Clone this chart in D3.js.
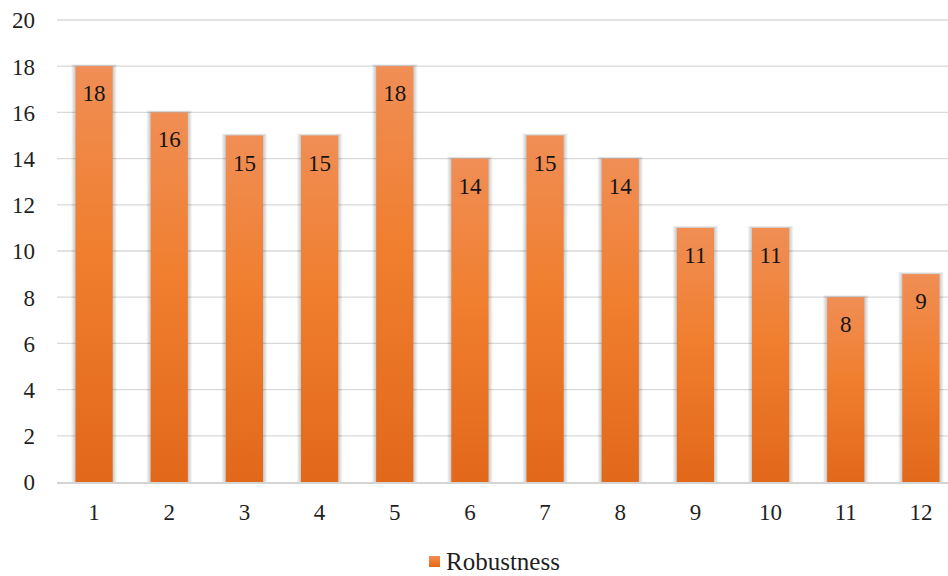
<!DOCTYPE html>
<html><head><meta charset="utf-8">
<script src="https://cdn.jsdelivr.net/npm/d3@7"></script>
</head><body><svg id="c" width="948" height="576"></svg>
<script>
const categories = ["1","2","3","4","5","6","7","8","9","10","11","12"];
const values = [18,16,15,15,18,14,15,14,11,11,8,9];
const yTicks = [0,2,4,6,8,10,12,14,16,18,20];
const seriesName = "Robustness";

d3.select("body").style("margin","0px");
d3.select("#c").style("display","block");
const FONT = "'Liberation Serif'";
const svg = d3.select("#c");
const x = d3.scaleBand().domain(categories).range([56.5, 958.5]).paddingInner(0.505).paddingOuter(0.2525);
const y = d3.scaleLinear().domain([0,20]).range([482, 20]);

const defs = svg.append("defs");
const g = defs.append("linearGradient").attr("id","bg").attr("x1",0).attr("y1",0).attr("x2",0).attr("y2",1);
g.append("stop").attr("offset","0%").attr("stop-color","#F08E55");
g.append("stop").attr("offset","45%").attr("stop-color","#F07E2E");
g.append("stop").attr("offset","100%").attr("stop-color","#E2681A");

// gridlines
svg.append("g").selectAll("line").data(yTicks.filter(d=>d>0)).join("line")
  .attr("x1",57).attr("x2",948).attr("y1",d=>y(d)).attr("y2",d=>y(d))
  .attr("stroke","#d9d9d9").attr("stroke-width",1.3);

// y labels
const yAxis = svg.append("g").attr("transform","translate(35,0)")
  .call(d3.axisLeft(y).tickValues(yTicks).tickSize(0).tickPadding(0));
yAxis.attr("font-family",null).attr("font-size",null);
yAxis.select(".domain").remove();
yAxis.selectAll("text").style("font-family",FONT).style("font-size","23px").attr("fill","#1f1f1f").attr("dy","0.34em");

// bar shadows (soft halo)
const shadowSteps = [4,3,2,1];
shadowSteps.forEach(s => {
  svg.append("g").selectAll("rect").data(values).join("rect")
    .attr("x",(d,i)=>x(categories[i])-s).attr("width",x.bandwidth()+2*s)
    .attr("y",d=>y(d)-s/2).attr("height",d=>y(0)-y(d)+s/2)
    .attr("fill","#000").attr("fill-opacity",0.05);
});

// bars
svg.append("g").selectAll("rect").data(values).join("rect")
  .attr("x",(d,i)=>x(categories[i])).attr("width",x.bandwidth())
  .attr("y",d=>y(d)).attr("height",d=>y(0)-y(d))
  .attr("fill","url(#bg)");

// baseline
svg.append("line").attr("x1",57).attr("x2",948).attr("y1",y(0)+1).attr("y2",y(0)+1)
  .attr("stroke","#d4d4d4").attr("stroke-width",2);

// value labels
svg.append("g").selectAll("text").data(values).join("text")
  .attr("x",(d,i)=>x(categories[i])+x.bandwidth()/2).attr("y",d=>y(d)+35)
  .attr("text-anchor","middle").style("font-family",FONT).style("font-size","23px").attr("fill","#141414")
  .text(d=>d);

// x labels
const xAxis = svg.append("g").attr("transform","translate(0,"+y(0)+")")
  .call(d3.axisBottom(x).tickSize(0).tickPadding(0));
xAxis.attr("font-family",null).attr("font-size",null);
xAxis.select(".domain").remove();
xAxis.selectAll("text").style("font-family",FONT).style("font-size","23px").attr("fill","#1f1f1f").attr("dy","0").attr("y",38);

// legend
const lg = svg.append("g");
lg.append("rect").attr("x",429).attr("y",556).attr("width",11).attr("height",11).attr("fill","url(#bg)");
lg.append("text").attr("x",446).attr("y",570).style("font-family",FONT).style("font-size","25px").attr("fill","#1f1f1f").text(seriesName);
</script></body></html>
